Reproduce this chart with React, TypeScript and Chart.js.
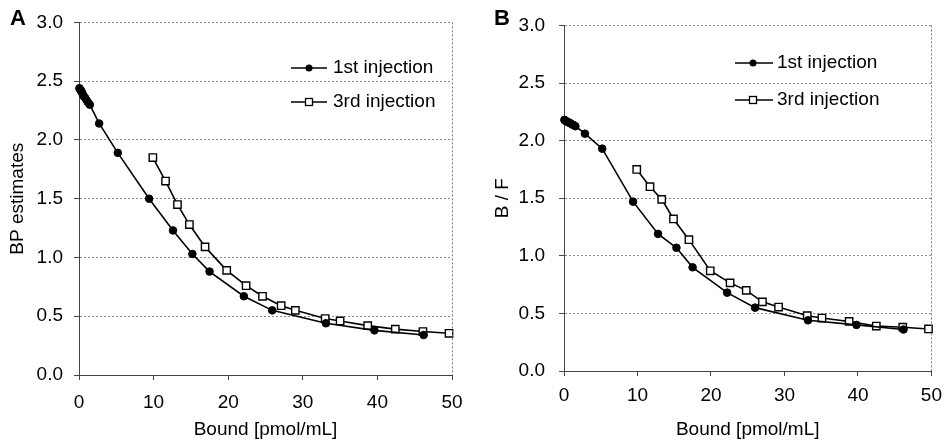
import React, { useEffect, useRef } from 'react';
import { Chart, registerables } from 'chart.js';

Chart.register(...registerables);

// ---------- data ----------
const seriesNames = ['1st injection', '3rd injection'];
const xTickValues = [0, 10, 20, 30, 40, 50];
const yTickValues = [0, 0.5, 1.0, 1.5, 2.0, 2.5, 3.0];

// Panel A: BP estimates
const aFirstX = [0.05, 0.15, 0.25, 0.35, 0.5, 0.65, 0.8, 1.0, 1.2, 1.45, 2.7, 5.2, 9.4, 12.6, 15.2, 17.5, 22.1, 25.9, 33.1, 39.6, 46.2];
const aFirstY = [2.44, 2.43, 2.42, 2.41, 2.39, 2.37, 2.36, 2.34, 2.32, 2.30, 2.14, 1.89, 1.50, 1.23, 1.03, 0.88, 0.67, 0.55, 0.44, 0.38, 0.34];
const aThirdX = [9.9, 11.6, 13.2, 14.8, 16.9, 19.8, 22.4, 24.6, 27.1, 29.0, 33.0, 35.0, 38.7, 42.4, 46.1, 49.6];
const aThirdY = [1.85, 1.65, 1.45, 1.28, 1.09, 0.89, 0.76, 0.67, 0.59, 0.55, 0.48, 0.46, 0.42, 0.39, 0.37, 0.355];

// Panel B: B / F
const bFirstX = [0.05, 0.15, 0.25, 0.4, 0.55, 0.7, 0.9, 1.1, 1.3, 1.55, 2.85, 5.2, 9.4, 12.8, 15.3, 17.5, 22.2, 26.0, 33.2, 39.8, 46.2];
const bFirstY = [2.18, 2.175, 2.17, 2.165, 2.16, 2.155, 2.15, 2.14, 2.135, 2.125, 2.06, 1.93, 1.47, 1.19, 1.07, 0.90, 0.68, 0.55, 0.44, 0.40, 0.36];
const bThirdX = [9.9, 11.7, 13.3, 14.9, 17.0, 19.9, 22.6, 24.8, 27.0, 29.2, 33.1, 35.1, 38.8, 42.5, 46.1, 49.6];
const bThirdY = [1.75, 1.60, 1.49, 1.32, 1.14, 0.87, 0.765, 0.70, 0.60, 0.555, 0.48, 0.46, 0.43, 0.39, 0.38, 0.365];

const xTitle = 'Bound [pmol/mL]';

const FONT = '"Liberation Sans", Arial, Helvetica, sans-serif';
const INK = '#000';

type PanelCfg = {
  letter: string;
  left: number;
  yTitle: string;
  firstX: number[];
  firstY: number[];
  thirdX: number[];
  thirdY: number[];
  padLeft: number;
  yWidth: number;
  padRight: number;
  padTop: number;
  xHeight: number;
  yTitlePad: number;
  yTickPad: number;
  xTickPad: number;
  letterLeft: number;
  legend: { lineX0: number; lineX1: number; markX: number; textX: number; ys: number[] };
};

const zip = (xs: number[], ys: number[]) => xs.map((x, i) => ({ x, y: ys[i] }));

function Panel({ cfg }: { cfg: PanelCfg }) {
  const ref = useRef<HTMLCanvasElement | null>(null);

  useEffect(() => {
    if (!ref.current) return;
    const decor = {
      id: 'decor',
      afterDraw(chart: any) {
        const { ctx, chartArea } = chart;
        ctx.save();
        // right border of plot area
        ctx.strokeStyle = '#777';
        ctx.lineWidth = 1;
        ctx.setLineDash([2, 2]);
        ctx.beginPath();
        ctx.moveTo(Math.round(chartArea.right) + 0.5, chartArea.top);
        ctx.lineTo(Math.round(chartArea.right) + 0.5, chartArea.bottom);
        ctx.stroke();
        ctx.setLineDash([]);
        // legend
        const L = cfg.legend;
        chart.data.datasets.forEach((ds: any, i: number) => {
          const y = L.ys[i];
          ctx.strokeStyle = INK;
          ctx.lineWidth = 1.5;
          ctx.beginPath();
          ctx.moveTo(L.lineX0, y);
          ctx.lineTo(L.lineX1, y);
          ctx.stroke();
          ctx.lineWidth = 1.3;
          if (i === 0) {
            ctx.fillStyle = INK;
            ctx.beginPath();
            ctx.arc(L.markX, y, 3.5, 0, Math.PI * 2);
            ctx.fill();
          } else {
            ctx.fillStyle = '#fff';
            ctx.fillRect(L.markX - 3.5, y - 3.5, 7, 7);
            ctx.strokeRect(L.markX - 3.5, y - 3.5, 7, 7);
          }
          ctx.fillStyle = INK;
          ctx.font = `19px ${FONT}`;
          ctx.textBaseline = 'middle';
          ctx.textAlign = 'left';
          ctx.fillText(ds.label, L.textX, y);
        });
        ctx.restore();
      },
    };

    const chart = new Chart(ref.current, {
      type: 'line',
      data: {
        datasets: [
          {
            label: seriesNames[0],
            data: zip(cfg.firstX, cfg.firstY),
            borderColor: INK,
            borderWidth: 1.6,
            pointStyle: 'circle',
            pointRadius: 3.8,
            pointBackgroundColor: INK,
            pointBorderColor: INK,
            pointBorderWidth: 1,
            tension: 0,
            clip: false as any,
          },
          {
            label: seriesNames[1],
            data: zip(cfg.thirdX, cfg.thirdY),
            borderColor: INK,
            borderWidth: 1.6,
            pointStyle: 'rect',
            pointRadius: 5.2,
            pointBackgroundColor: '#fff',
            pointBorderColor: INK,
            pointBorderWidth: 1.4,
            tension: 0,
            clip: false as any,
          },
        ],
      },
      options: {
        animation: false,
        responsive: true,
        maintainAspectRatio: false,
        devicePixelRatio: 1,
        layout: {
          padding: { left: cfg.padLeft, right: cfg.padRight, top: cfg.padTop, bottom: 0 },
        },
        plugins: {
          legend: { display: false },
          tooltip: { enabled: false },
        },
        scales: {
          x: {
            type: 'linear',
            min: 0,
            max: 50,
            afterBuildTicks: (s: any) => {
              s.ticks = xTickValues.map((v) => ({ value: v }));
            },
            afterFit: (s: any) => {
              s.height = cfg.xHeight;
            },
            ticks: {
              color: INK,
              font: { size: 19, family: FONT },
              padding: cfg.xTickPad,
              maxRotation: 0,
              callback: (v: any) => String(v),
            },
            grid: {
              drawOnChartArea: false,
              drawTicks: true,
              tickLength: 5,
              color: '#444',
            },
            border: { display: true, color: '#444', width: 1 },
            title: {
              display: true,
              text: xTitle,
              color: INK,
              font: { size: 19, family: FONT },
              padding: { top: 0, bottom: 4 },
            },
          },
          y: {
            type: 'linear',
            min: 0,
            max: 3,
            afterBuildTicks: (s: any) => {
              s.ticks = yTickValues.map((v) => ({ value: v }));
            },
            afterFit: (s: any) => {
              s.width = cfg.yWidth;
            },
            ticks: {
              color: INK,
              font: { size: 19, family: FONT },
              padding: cfg.yTickPad,
              callback: (v: any) => Number(v).toFixed(1),
            },
            grid: {
              drawOnChartArea: true,
              drawTicks: true,
              tickLength: 5,
              color: '#8a8a8a',
              tickColor: '#444',
              tickBorderDash: [],
              lineWidth: 1,
            } as any,
            border: { display: true, color: '#444', width: 1, dash: [2, 2] },
            title: {
              display: true,
              text: cfg.yTitle,
              color: INK,
              font: { size: 19, family: FONT },
              padding: { top: cfg.yTitlePad, bottom: 0 },
            },
          },
        },
      } as any,
      plugins: [decor],
    });
    return () => chart.destroy();
  }, [cfg]);

  return (
    <div style={{ position: 'absolute', left: cfg.left, top: 0, width: 475, height: 445 }}>
      <canvas ref={ref} />
      <div
        style={{
          position: 'absolute',
          left: cfg.letterLeft,
          top: 7,
          fontFamily: FONT,
          fontWeight: 'bold',
          fontSize: 22,
          lineHeight: '22px',
          color: INK,
        }}
      >
        {cfg.letter}
      </div>
    </div>
  );
}

const panelA: PanelCfg = {
  letter: 'A',
  left: 0,
  yTitle: 'BP estimates',
  firstX: aFirstX,
  firstY: aFirstY,
  thirdX: aThirdX,
  thirdY: aThirdY,
  padLeft: 0,
  yWidth: 79,
  padRight: 23,
  padTop: 16,
  xHeight: 70,
  yTitlePad: 6,
  yTickPad: 11,
  xTickPad: 11,
  letterLeft: 10,
  legend: { lineX0: 291, lineX1: 327, markX: 309, textX: 333, ys: [68, 102] },
};

const panelB: PanelCfg = {
  letter: 'B',
  left: 475,
  yTitle: 'B / F',
  firstX: bFirstX,
  firstY: bFirstY,
  thirdX: bThirdX,
  thirdY: bThirdY,
  padLeft: 0,
  yWidth: 89,
  padRight: 13,
  padTop: 14,
  xHeight: 74,
  yTitlePad: 16,
  yTickPad: 14,
  xTickPad: 8,
  letterLeft: 19,
  legend: { lineX0: 260, lineX1: 298, markX: 278, textX: 302, ys: [63, 100] },
};

export default function App() {
  return (
    <div style={{ position: 'absolute', left: 0, top: 0, width: 950, height: 445, background: '#fff' }}>
      <Panel cfg={panelA} />
      <Panel cfg={panelB} />
    </div>
  );
}
